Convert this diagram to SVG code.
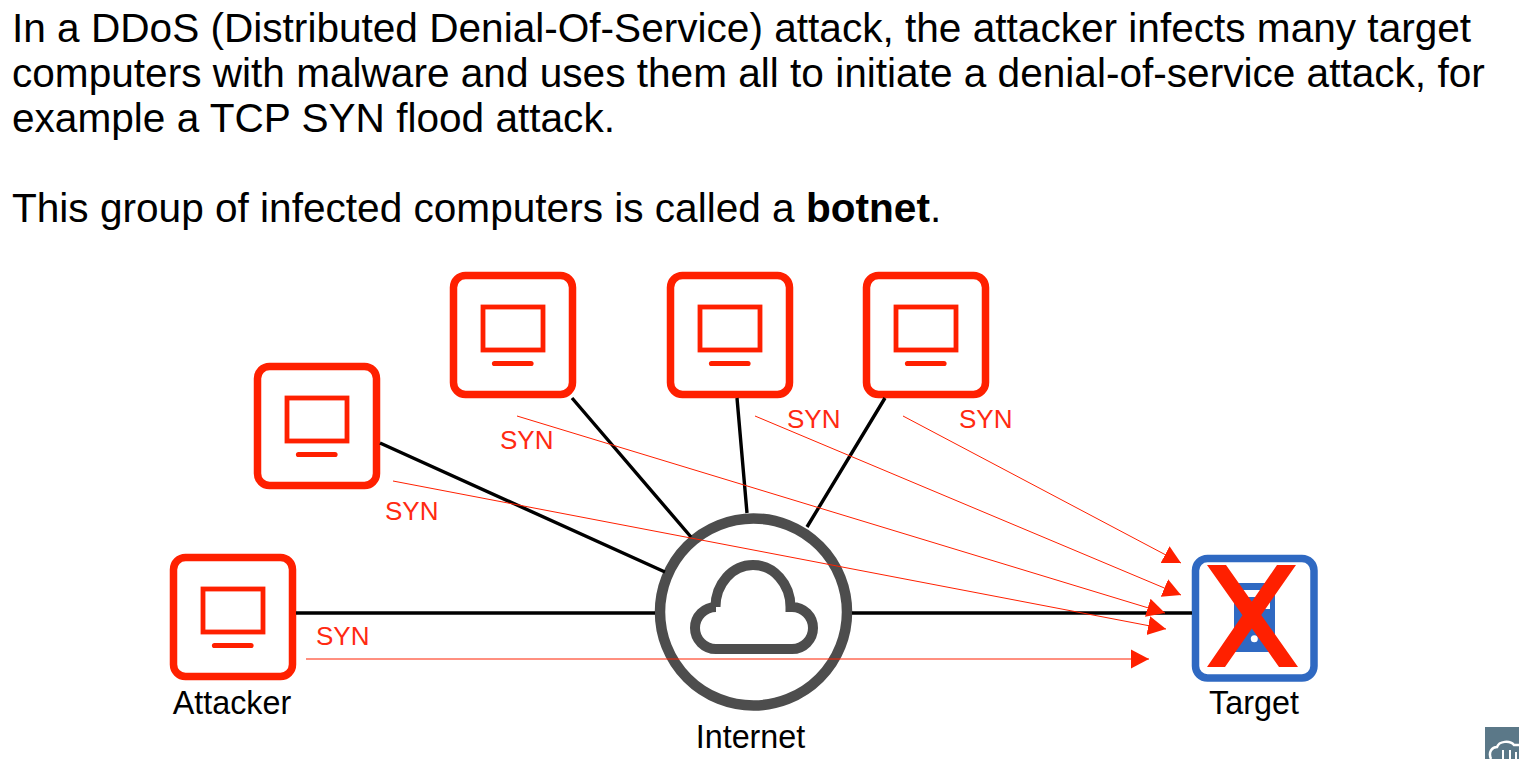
<svg xmlns="http://www.w3.org/2000/svg" width="1519" height="759" viewBox="0 0 1519 759">
<style>
text{font-family:"Liberation Sans",Arial,sans-serif;fill:#000}
.body{font-size:40.6px}
.lab{font-size:32.3px;text-anchor:middle}
.syn{font-size:26px;fill:#ff2a12}
.box{fill:#fff;stroke:#ff2000;stroke-width:7.500}
.scr{fill:none;stroke:#ff2000;stroke-width:4.800}
.bar{stroke:#ff2000;stroke-width:5.200;stroke-linecap:round}
.link{stroke:#000;stroke-width:3.400;fill:none}
.flow{stroke:#ff2000;stroke-width:1;fill:none;marker-end:url(#a)}
</style>
<defs>
<marker id="a" markerUnits="userSpaceOnUse" markerWidth="19" markerHeight="22" viewBox="0 0 19 22" refX="18" refY="11" orient="auto"><path d="M0 1.500L18 11L0 20.500Z" fill="#ff2000"/></marker>
<g id="pc">
<rect class="box" x="173.500" y="557.500" width="119" height="119" rx="12"/>
<rect class="scr" x="203" y="589" width="60" height="43"/>
<path class="bar" d="M214.500 645.500H251"/>
</g>
</defs>
<rect width="1519" height="759" fill="#fff"/>
<g id="caption">
<text class="body" x="12" y="42">In a DDoS (Distributed Denial-Of-Service) attack, the attacker infects many target</text>
<text class="body" x="12" y="87">computers with malware and uses them all to initiate a denial-of-service attack, for</text>
<text class="body" x="12" y="132">example a TCP SYN flood attack.</text>
<text class="body" x="12" y="222">This group of infected computers is called a <tspan font-weight="bold">botnet</tspan>.</text>
</g>
<g id="node-attacker"><use href="#pc"/><text class="lab" x="232" y="714">Attacker</text></g>
<g id="node-bot1"><use href="#pc" x="84" y="-191"/></g>
<g id="node-bot2"><use href="#pc" x="280" y="-282"/></g>
<g id="node-bot3"><use href="#pc" x="497" y="-282"/></g>
<g id="node-bot4"><use href="#pc" x="693" y="-282"/></g>
<g id="node-internet">
<circle cx="753.500" cy="612" r="93.500" fill="#fff" stroke="#4d4d4d" stroke-width="10.500"/>
<path d="M716 649H792A21 21 0 0 0 792 607L790.500 607A37.500 42 0 0 0 715.500 607L716 607A21 21 0 0 0 716 649Z" fill="none" stroke="#4d4d4d" stroke-width="10"/>
<text class="lab" x="750.500" y="748">Internet</text>
</g>
<g id="node-target">
<rect x="1195.500" y="558.500" width="118.500" height="119.500" rx="12" fill="#fff" stroke="#2f69c2" stroke-width="7.500"/>
<rect x="1234" y="583" width="41" height="69" fill="#2f69c2"/>
<rect x="1243" y="590" width="27" height="19" fill="#fff"/>
<rect x="1243" y="597" width="23" height="9" fill="#2f69c2"/>
<circle cx="1254.300" cy="638.700" r="3.500" fill="#fff"/>
<path d="M1207 565H1226L1298 667H1279ZM1277 565H1296L1225 667H1207Z" fill="#ff2000"/>
<text class="lab" x="1254" y="714">Target</text>
</g>
<g id="connectors">
<path class="link" d="M296 613H655M852 613H1192M380 443L665 572M572 398L691 537M737 398L747 513M885 398L807 527"/>
<path class="flow" d="M306 659H1149"/>
<path class="flow" d="M393 481L1166 629"/>
<path class="flow" d="M517 416L1165 613"/>
<path class="flow" d="M755 416L1181 595"/>
<path class="flow" d="M903 416L1181 563"/>
<text class="syn" x="316" y="645">SYN</text>
<text class="syn" x="385" y="520">SYN</text>
<text class="syn" x="500" y="449">SYN</text>
<text class="syn" x="787" y="428">SYN</text>
<text class="syn" x="959" y="428">SYN</text>
</g>
<g id="corner-badge">
<rect x="1485" y="727" width="34" height="32" fill="#5b7888"/>
<path d="M1491 759C1488 752 1492 747 1497 747C1499 741 1510 740 1514 745L1519 745" fill="none" stroke="#fff" stroke-width="2.500"/>
<path d="M1503 759V750M1510 759V750M1516 759V752" stroke="#fff" stroke-width="2"/>
</g>
</svg>
